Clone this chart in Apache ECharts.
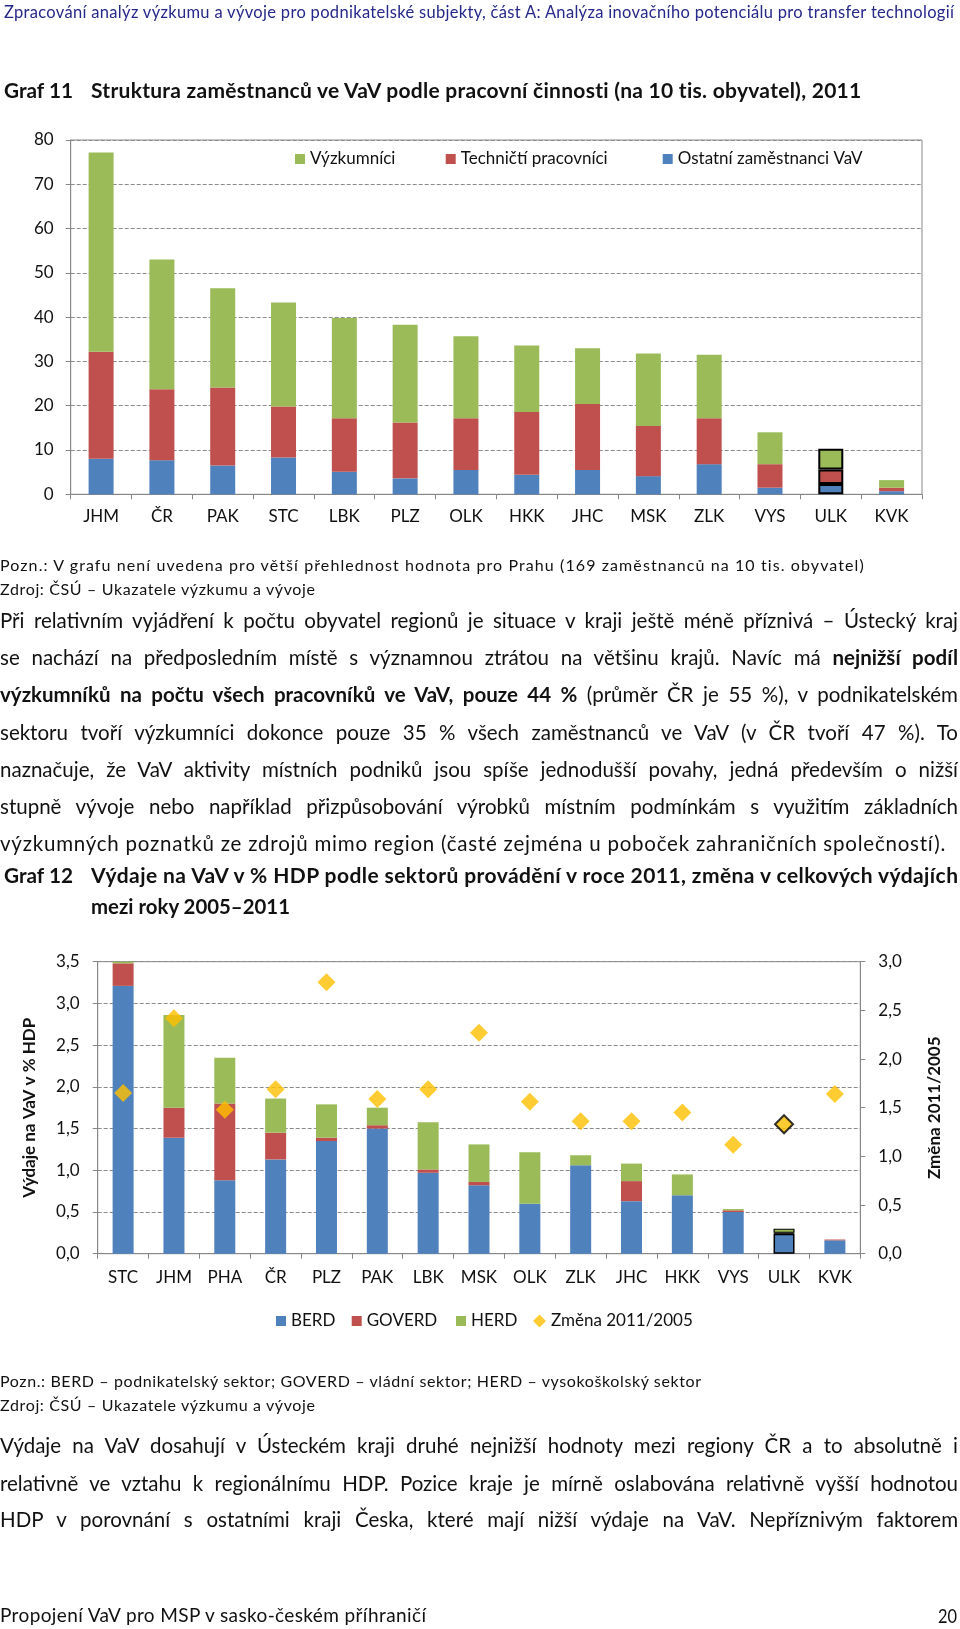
<!DOCTYPE html>
<html><head><meta charset="utf-8">
<script src="https://cdn.jsdelivr.net/npm/echarts@6/dist/echarts.min.js"></script>
<style>
html,body{margin:0;padding:0;background:#fff;}
#page{position:relative;width:960px;height:1629px;background:#fff;overflow:hidden;}
#chart{position:absolute;left:0;top:0;width:960px;height:1629px;}
.ln{position:absolute;white-space:nowrap;font-family:Lato,'Liberation Sans',sans-serif;color:#111;transform-origin:0 50%;}
</style></head>
<body><div id="page"><div id="chart"></div><div id="txt"></div></div>
<script>
// ---------- Graf 11 data ----------
const cat1 = ['JHM','ČR','PAK','STC','LBK','PLZ','OLK','HKK','JHC','MSK','ZLK','VYS','ULK','KVK'];
const vyzkumnici = [45.0,29.3,22.4,23.5,22.6,22.1,18.5,15.0,12.6,16.4,14.3,7.2,4.7,1.7];
const technicti  = [24.2,16.0,17.6,11.5,12.1,12.6,11.7,14.2,14.9,11.3,10.4,5.3,3.3,0.8];
const ostatni    = [8.0,7.7,6.5,8.3,5.1,3.6,5.5,4.4,5.5,4.1,6.8,1.5,2.3,0.7];
const y1Min = 0, y1Max = 80, y1Step = 10;

// ---------- Graf 12 data ----------
const cat2 = ['STC','JHM','PHA','ČR','PLZ','PAK','LBK','MSK','OLK','ZLK','JHC','HKK','VYS','ULK','KVK'];
const berd   = [3.21,1.39,0.88,1.13,1.35,1.50,0.97,0.82,0.60,1.06,0.63,0.70,0.50,0.24,0.16];
const goverd = [0.27,0.36,0.92,0.32,0.04,0.04,0.04,0.04,0.00,0.00,0.24,0.00,0.02,0.01,0.01];
const herd   = [0.05,1.11,0.55,0.41,0.40,0.21,0.565,0.45,0.615,0.12,0.21,0.25,0.015,0.05,0.00];
const zmena  = [1.65,2.42,1.48,1.69,2.79,1.59,1.69,2.27,1.56,1.36,1.36,1.45,1.12,1.33,1.64];
const y2Max = 3.5, y3Max = 3.0, y2Step = 0.5;

const highlight = 'ULK';
const C_GREEN = '#9BBB59', C_RED = '#C0504D', C_BLUE = '#4F81BD', C_GOLD = '#FFC000';
const AX = '#878787', TXT = '#111';

function mark(cats, arr, color, bw){
  return arr.map((v,i)=> cats[i]===highlight
    ? {value:v, itemStyle:{color:color, borderColor:'#000', borderWidth:bw}}
    : v);
}
const fmt = v => v.toFixed(1).replace('.', ',');

const chart = echarts.init(document.getElementById('chart'), null, {renderer:'canvas'});
const axisCommon = {
  axisLine:{show:true, lineStyle:{color:AX, width:1}},
  axisTick:{show:true, length:5, lineStyle:{color:AX}},
};
const legendBase = {orient:'horizontal', padding:0, itemWidth:10, itemHeight:10, itemGap:5,
  textStyle:{fontFamily:'Lato', fontSize:17, color:TXT, lineHeight:17}};

chart.setOption({
  animation:false,
  backgroundColor:'#fff',
  textStyle:{fontFamily:'Lato'},
  grid:[
    {left:70.7, top:140, width:851.3, height:354.3, show:true, borderColor:'#8a8a8a', borderWidth:1, backgroundColor:'transparent'},
    {left:97.7, top:961.7, width:762.6, height:292, show:true, borderColor:'#8a8a8a', borderWidth:1, backgroundColor:'transparent'}
  ],
  xAxis:[
    Object.assign({gridIndex:0, type:'category', data:cat1,
      axisLabel:{interval:0, fontSize:17, color:TXT, margin:14}}, axisCommon),
    Object.assign({gridIndex:1, type:'category', data:cat2,
      axisLabel:{interval:0, fontSize:17, color:TXT, margin:15}}, axisCommon)
  ],
  yAxis:[
    Object.assign({gridIndex:0, type:'value', min:y1Min, max:y1Max, interval:y1Step,
      axisLabel:{fontSize:17, color:TXT, margin:17},
      splitLine:{show:true, lineStyle:{color:'#8c8c8c', type:[4,2]}}}, axisCommon),
    Object.assign({gridIndex:1, type:'value', min:0, max:y2Max, interval:y2Step,
      axisLabel:{fontSize:17, color:TXT, margin:18, formatter:fmt},
      splitLine:{show:true, lineStyle:{color:'#8c8c8c', type:[4,2]}},
      name:'Výdaje na VaV v % HDP', nameLocation:'middle', nameRotate:90, nameGap:60,
      nameTextStyle:{fontSize:17, fontWeight:'bold', color:TXT, fontFamily:'Lato'}}, axisCommon),
    Object.assign({gridIndex:1, type:'value', position:'right', min:0, max:y3Max, interval:y2Step,
      axisLabel:{fontSize:17, color:TXT, margin:18, formatter:fmt},
      splitLine:{show:false},
      name:'Změna 2011/2005', nameLocation:'middle', nameRotate:90, nameGap:66,
      nameTextStyle:{fontSize:17, fontWeight:'bold', color:TXT, fontFamily:'Lato'}}, axisCommon)
  ],
  legend:[
    Object.assign({left:295, top:150.5, icon:'rect', data:['Výzkumníci']}, legendBase),
    Object.assign({left:445.7, top:150.5, icon:'rect', data:['Techničtí pracovníci']}, legendBase),
    Object.assign({left:662.7, top:150.5, icon:'rect', data:['Ostatní zaměstnanci VaV']}, legendBase),
    Object.assign({left:276, top:1312.5, icon:'rect', data:['BERD']}, legendBase),
    Object.assign({left:351.7, top:1312.5, icon:'rect', data:['GOVERD']}, legendBase),
    Object.assign({left:456, top:1312.5, icon:'rect', data:['HERD']}, legendBase),
    Object.assign({}, legendBase, {left:533, top:1312.5, icon:'diamond', itemWidth:13, itemHeight:13, data:['Změna 2011/2005']})
  ],
  series:[
    {name:'Ostatní zaměstnanci VaV', type:'bar', stack:'g11', xAxisIndex:0, yAxisIndex:0, barWidth:25,
      itemStyle:{color:C_BLUE}, data:mark(cat1, ostatni, C_BLUE, 2)},
    {name:'Techničtí pracovníci', type:'bar', stack:'g11', xAxisIndex:0, yAxisIndex:0, barWidth:25,
      itemStyle:{color:C_RED}, data:mark(cat1, technicti, C_RED, 2)},
    {name:'Výzkumníci', type:'bar', stack:'g11', xAxisIndex:0, yAxisIndex:0, barWidth:25,
      itemStyle:{color:C_GREEN}, data:mark(cat1, vyzkumnici, C_GREEN, 2)},
    {name:'BERD', type:'bar', stack:'g12', xAxisIndex:1, yAxisIndex:1, barWidth:21, clip:true,
      itemStyle:{color:C_BLUE}, data:mark(cat2, berd, C_BLUE, 1.5)},
    {name:'GOVERD', type:'bar', stack:'g12', xAxisIndex:1, yAxisIndex:1, barWidth:21, clip:true,
      itemStyle:{color:C_RED}, data:mark(cat2, goverd, C_RED, 0.8)},
    {name:'HERD', type:'bar', stack:'g12', xAxisIndex:1, yAxisIndex:1, barWidth:21, clip:true,
      itemStyle:{color:C_GREEN}, data:mark(cat2, herd, C_GREEN, 1.2)},
    {name:'Změna 2011/2005', type:'scatter', xAxisIndex:1, yAxisIndex:2, symbol:'diamond', symbolSize:18, z:5,
      itemStyle:{color:C_GOLD},
      data: zmena.map((v,i)=> cat2[i]===highlight ? {value:v, itemStyle:{color:C_GOLD, borderColor:'#000', borderWidth:2}} : v)}
  ]
});

// ---------- document text ----------
const lines = [
  {h:'Zpracování analýz výzkumu a vývoje pro podnikatelské subjekty, část A: Analýza inovačního potenciálu pro transfer technologií', x:4, y:12.5, w:950, fs:16.5, c:'#26288a', m:'fit'},
  {h:'Graf 11', x:4, y:90, w:69, fs:21, b:1, m:'fit'},
  {h:'Struktura zaměstnanců ve VaV podle pracovní činnosti (na 10 tis. obyvatel), 2011', x:91, y:90, w:771, fs:21, b:1, m:'fit'},
  {h:'Pozn.: V grafu není uvedena pro větší přehlednost hodnota pro Prahu (169 zaměstnanců na 10 tis. obyvatel)', x:0, y:565, w:864, fs:16, m:'fit'},
  {h:'Zdroj: ČSÚ – Ukazatele výzkumu a vývoje', x:0, y:589, w:315, fs:16, m:'fit'},
  {h:'Při relativním vyjádření k počtu obyvatel regionů je situace v kraji ještě méně příznivá – Ústecký kraj', x:0, y:620, w:958, fs:20.5, m:'just'},
  {h:'se nachází na předposledním místě s významnou ztrátou na většinu krajů. Navíc má <b>nejnižší podíl</b>', x:0, y:657, w:958, fs:20.5, m:'just'},
  {h:'<b>výzkumníků na počtu všech pracovníků ve VaV, pouze 44 %</b> (průměr ČR je 55 %), v podnikatelském', x:0, y:694, w:958, fs:20.5, m:'just'},
  {h:'sektoru tvoří výzkumníci dokonce pouze 35 % všech zaměstnanců ve VaV (v ČR tvoří 47 %). To', x:0, y:731.5, w:958, fs:20.5, m:'just'},
  {h:'naznačuje, že VaV aktivity místních podniků jsou spíše jednodušší povahy, jedná především o nižší', x:0, y:769, w:958, fs:20.5, m:'just'},
  {h:'stupně vývoje nebo například přizpůsobování výrobků místním podmínkám s využitím základních', x:0, y:806, w:958, fs:20.5, m:'just'},
  {h:'výzkumných poznatků ze zdrojů mimo region (časté zejména u poboček zahraničních společností).', x:0, y:842.5, w:945, fs:20.5, m:'fit'},
  {h:'Graf 12', x:4, y:875, w:69, fs:21, b:1, m:'fit'},
  {h:'Výdaje na VaV v % HDP podle sektorů provádění v roce 2011, změna v celkových výdajích', x:91, y:875, w:867, fs:21, b:1, m:'fit'},
  {h:'mezi roky 2005–2011', x:91, y:906, w:199, fs:21, b:1, m:'fit'},
  {h:'Pozn.: BERD – podnikatelský sektor; GOVERD – vládní sektor; HERD – vysokoškolský sektor', x:0, y:1381, w:701, fs:16, m:'fit'},
  {h:'Zdroj: ČSÚ – Ukazatele výzkumu a vývoje', x:0, y:1405, w:315, fs:16, m:'fit'},
  {h:'Výdaje na VaV dosahují v Ústeckém kraji druhé nejnižší hodnoty mezi regiony ČR a to absolutně i', x:0, y:1445, w:958, fs:20.5, m:'just'},
  {h:'relativně ve vztahu k regionálnímu HDP. Pozice kraje je mírně oslabována relativně vyšší hodnotou', x:0, y:1482.5, w:958, fs:20.5, m:'just'},
  {h:'HDP v porovnání s ostatními kraji Česka, které mají nižší výdaje na VaV. Nepříznivým faktorem', x:0, y:1519, w:958, fs:20.5, m:'just'},
  {h:'Propojení VaV pro MSP v sasko-českém příhraničí', x:0, y:1615, w:426, fs:19, m:'fit'},
  {h:'20', x:938, y:1615, w:19, fs:20, m:'fit'}
];
const txt = document.getElementById('txt');
const els = lines.map(L=>{
  const d = document.createElement('div');
  d.className = 'ln';
  d.innerHTML = L.h;
  const lh = Math.round(L.fs*1.25);
  d.style.fontSize = L.fs+'px';
  d.style.lineHeight = lh+'px';
  d.style.left = L.x+'px';
  d.style.top = (L.y - lh/2)+'px';
  if (L.b) d.style.fontWeight = 'bold';
  if (L.c) d.style.color = L.c;
  txt.appendChild(d);
  return [d,L];
});
function fitAll(){
  els.forEach(([d,L])=>{
    d.style.transform=''; d.style.wordSpacing=''; d.style.letterSpacing='';
    const w = d.getBoundingClientRect().width;
    const extra = L.w - w;
    if (extra < 0) { d.style.transform = 'scaleX('+(L.w/w)+')'; return; }
    const text = d.textContent;
    if (L.m==='just') {
      const n = (text.match(/ /g)||[]).length;
      if (n) d.style.wordSpacing = (extra/n)+'px';
    } else {
      const n = text.length-1;
      if (n>0) d.style.letterSpacing = Math.min(extra/n, 3)+'px';
    }
  });
}
fitAll();
if (document.fonts && document.fonts.ready) document.fonts.ready.then(fitAll);
</script></body></html>
